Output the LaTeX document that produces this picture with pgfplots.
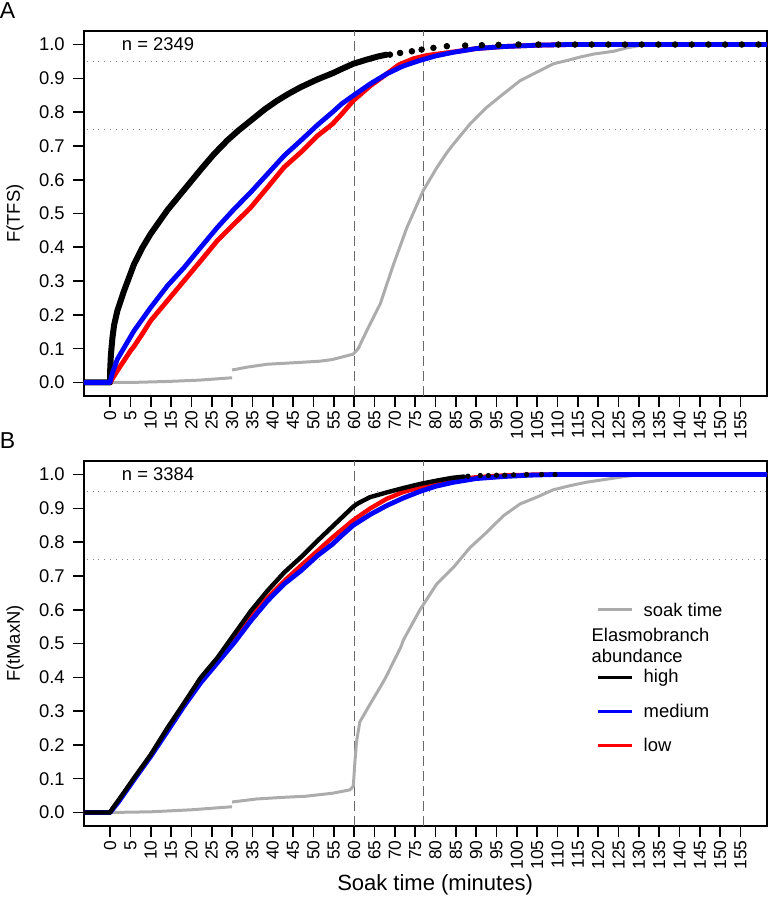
\documentclass[border=0pt]{standalone}
\usepackage{pgfplots}
\pgfplotsset{compat=1.18}
\usepackage{fontspec}
\setmainfont{Liberation Sans}

\definecolor{soak}{RGB}{172,172,172}
\definecolor{refl}{RGB}{105,105,105}
\definecolor{refd}{RGB}{135,135,135}

\pgfplotsset{
  panel/.style={
    scale only axis, width=341.5pt, height=182.5pt,
    xmin=-6.4, xmax=161.5, ymin=-0.04, ymax=1.04,
    xtick={0,5,...,155},
    ytick={0,0.1,0.2,0.3,0.4,0.5,0.6,0.7,0.8,0.9,1},
    yticklabels={0.0,0.1,0.2,0.3,0.4,0.5,0.6,0.7,0.8,0.9,1.0},
    tick align=outside, tick pos=left,
    major tick length=5.5pt,
    axis line style={line width=0.8pt},
    every tick/.style={black, line width=0.8pt},
    /pgf/number format/assume math mode=true,
    xticklabel style={rotate=90, anchor=east, font=\fontsize{8.7}{10}\selectfont, inner sep=1.5pt},
    yticklabel style={font=\fontsize{9.2}{10}\selectfont, inner sep=4pt},
    ylabel style={at={(axis description cs:-0.101,0.5)}, anchor=center, font=\fontsize{9.2}{10}\selectfont},
    clip mode=individual,
  },
  refv/.style={refl, line width=0.6pt, dash pattern=on 5pt off 2.5pt},
  refh/.style={refd, line width=0.5pt, dash pattern=on 0.5pt off 2.4pt},
}

\begin{document}
\begin{tikzpicture}
\useasboundingbox (0,0) rectangle (384pt,-455pt);

% ---- panel A: time to first sighting
\begin{axis}[panel, at={(42pt,-15.5pt)}, anchor=north west, ylabel={F(TFS)}]
  \addplot[refh] coordinates {(-10,0.95) (170,0.95)};
  \addplot[refh] coordinates {(-10,0.75) (170,0.75)};
  \addplot[refv] coordinates {(60,-0.04) (60,1.04)};
  \addplot[refv] coordinates {(77,-0.04) (77,1.04)};

  % soak time
  \addplot[soak, line width=1.5pt] coordinates {
    (-10,0) (0,0) (5,0.0) (14.1,0.003) (22,0.007) (30,0.014)
  };
  \addplot[soak, line width=1.5pt, line join=round] coordinates {
    (30,0.037) (34,0.046) (38.7,0.054) (46,0.059) (51.6,0.063) (54.7,0.068)
    (59.8,0.084) (61,0.10) (63.1,0.153) (66.4,0.232) (69.7,0.35) (73,0.459)
    (77,0.568) (80.3,0.635) (82.8,0.680) (84.4,0.705) (88.5,0.765) (91,0.795)
    (92.6,0.814) (96.7,0.854) (100.8,0.893) (104.9,0.918) (109,0.943)
    (113.1,0.955) (115.6,0.963) (119,0.972) (123.8,0.98) (127,0.99)
    (130.3,0.997) (133,1) (170,1)
  };

  % high
  \addplot[black, line width=3pt, line cap=round, line join=round] coordinates {
    (-10,0) (0,0) (0.05,0.04) (0.2,0.08) (0.6,0.133) (1.0,0.17) (1.8,0.212)
    (3.4,0.27) (5.9,0.35) (8,0.40) (10,0.44) (14.1,0.51) (18.2,0.57)
    (22.3,0.63) (25.5,0.675) (28.8,0.716) (31.5,0.745) (34.6,0.775)
    (38,0.808) (41.1,0.834) (44,0.855) (46.9,0.874) (51,0.897) (54.7,0.915)
    (57,0.928) (59.8,0.943) (63,0.955) (66,0.965) (68,0.970)
  };

  % low
  \addplot[red, line width=2.4pt, line join=round] coordinates {
    (-10,0) (0,0) (1.8,0.035) (5.1,0.095) (5.9,0.107) (8,0.145) (10,0.183)
    (14.1,0.242) (18.2,0.301) (22.3,0.36) (26.4,0.42) (30.5,0.469)
    (34.6,0.518) (38.7,0.577) (42.8,0.637) (46.9,0.681) (51,0.73)
    (54.7,0.765) (57,0.795) (59.8,0.834) (64,0.878) (68,0.913) (71,0.94)
    (74.6,0.958) (78,0.968) (84.4,0.978) (90,0.988) (96.7,0.994)
    (105,0.998) (113,1) (170,1)
  };

  % medium
  \addplot[blue, line width=2.4pt, line join=round] coordinates {
    (-10,0) (0,0) (0.5,0.025) (1.8,0.069) (5.9,0.153) (10,0.222)
    (14.1,0.286) (18.2,0.34) (22.3,0.40) (26.4,0.459) (30.5,0.513)
    (34.6,0.563) (38.7,0.617) (42.8,0.671) (46.9,0.716) (51,0.762)
    (54.7,0.80) (57,0.825) (59.8,0.849) (64,0.884) (68,0.913) (72,0.936)
    (76.2,0.953) (80,0.966) (84.4,0.977) (90,0.988) (96.7,0.994)
    (105,0.998) (113,1) (170,1)
  };

  % high, sparse tail points
  \addplot[only marks, mark=*, mark size=1.4pt, black] coordinates {
    (68.8,0.970) (71.3,0.975) (74.2,0.980) (76.6,0.985) (79.5,0.990)
    (82.8,0.995) (87.3,0.997) (91.4,0.998) (95.5,0.999) (100.4,1)
    (105.3,1) (110.2,1) (114.3,1) (118.4,1) (122.5,1) (126.6,1) (130.7,1)
    (134.8,1) (138.9,1) (143,1) (147.1,1) (151.2,1) (155.3,1) (159.4,1)
  };

  \node[anchor=west, font=\fontsize{9.2}{10}\selectfont] at (axis cs:1.2,1.0) {n = 2349};
  \node[font=\fontsize{11.5}{13}\selectfont] at (axis description cs:-0.112,1.055) {A};
\end{axis}

% ---- panel B: time to MaxN
\begin{axis}[panel, at={(42pt,-230.5pt)}, anchor=north west, ylabel={F(tMaxN)},
  xlabel={Soak time (minutes)},
  xlabel style={at={(axis description cs:0.514,-0.162)}, anchor=center, font=\fontsize{11}{13}\selectfont}]
  \addplot[refh] coordinates {(-10,0.95) (170,0.95)};
  \addplot[refh] coordinates {(-10,0.75) (170,0.75)};
  \addplot[refv] coordinates {(60,-0.04) (60,1.04)};
  \addplot[refv] coordinates {(77,-0.04) (77,1.04)};

  % soak time
  \addplot[soak, line width=1.5pt] coordinates {
    (-10,0) (0,0) (10,0.002) (20,0.008) (30,0.017)
  };
  \addplot[soak, line width=1.5pt, line join=round] coordinates {
    (30,0.031) (36,0.040) (42.8,0.045) (48,0.048) (54.7,0.057) (59,0.067)
    (59.8,0.078) (60.2,0.15) (60.6,0.21) (61.4,0.268) (63.9,0.32)
    (67.1,0.385) (68,0.405) (71.5,0.49) (72.1,0.51) (76.2,0.600)
    (80.3,0.676) (84.4,0.725) (88.5,0.784) (92.6,0.829) (96.7,0.878)
    (100.8,0.913) (104.9,0.933) (109,0.955) (113.1,0.967) (117,0.977)
    (122,0.986) (127,0.995) (131,1) (170,1)
  };

  % low
  \addplot[red, line width=2.2pt, line join=round] coordinates {
    (-10,0) (0,0) (2,0.033) (5.9,0.098) (10,0.168) (14.1,0.246)
    (18.2,0.32) (22.3,0.392) (26.4,0.448) (30.5,0.515) (34.6,0.582)
    (38.7,0.635) (42.8,0.685) (46.9,0.73) (51,0.774) (54.7,0.814)
    (59.8,0.865) (64,0.900) (68,0.928) (72,0.948) (76.2,0.962) (80,0.975)
    (84.4,0.984) (90,0.992) (96.7,0.997) (105,1) (170,1)
  };

  % medium
  \addplot[blue, line width=2.4pt, line join=round] coordinates {
    (-10,0) (0,0) (2,0.03) (5.9,0.097) (10,0.166) (14.1,0.24) (18.2,0.315)
    (22.3,0.384) (26.4,0.443) (30.5,0.502) (34.6,0.567) (38.7,0.626)
    (42.8,0.676) (46.9,0.715) (51,0.76) (54.7,0.794) (57,0.82)
    (59.8,0.850) (64,0.882) (68,0.908) (72,0.93) (76.2,0.95) (80,0.965)
    (84.4,0.977) (90,0.988) (96.7,0.994) (103,0.998) (109,1) (170,1)
  };

  % high
  \addplot[black, line width=2.2pt, line cap=round, line join=round] coordinates {
    (-10,0) (0,0) (0.5,0.01) (2,0.035) (5.9,0.102) (10,0.171) (14.1,0.25)
    (18.2,0.324) (22.3,0.399) (26.4,0.458) (30.5,0.527) (34.6,0.596)
    (38.7,0.656) (42.8,0.71) (46.9,0.755) (51,0.804) (55.7,0.858)
    (59.8,0.905) (61,0.915) (63.9,0.933) (68,0.947) (72.1,0.96)
    (76.2,0.972) (80.3,0.982) (84,0.990) (87,0.994)
  };
  \addplot[only marks, mark=*, mark size=1.1pt, black] coordinates {
    (88,0.995) (91,0.997) (93,0.997) (95,0.998) (97,0.998) (99.2,0.999)
    (102.4,1) (106.1,1) (109.4,1)
  };

  % legend
  \draw[soak, line width=1.5pt] (axis cs:120,0.60) -- (axis cs:128.4,0.60);
  \draw[black, line width=1.5pt] (axis cs:120,0.40) -- (axis cs:128.4,0.40);
  \draw[blue, line width=1.5pt] (axis cs:120,0.30) -- (axis cs:128.4,0.30);
  \draw[red, line width=1.5pt] (axis cs:120,0.199) -- (axis cs:128.4,0.199);
  \begin{scope}[every node/.style={anchor=west, inner sep=0pt, font=\fontsize{9.2}{10}\selectfont}]
    \node at (axis cs:131.1,0.60) {soak time};
    \node at (axis cs:118.3,0.525) {Elasmobranch};
    \node at (axis cs:118.3,0.463) {abundance};
    \node at (axis cs:131.1,0.40) {high};
    \node at (axis cs:131.1,0.30) {medium};
    \node at (axis cs:131.1,0.199) {low};
  \end{scope}

  \node[anchor=west, font=\fontsize{9.2}{10}\selectfont] at (axis cs:1.2,1.0) {n = 3384};
  \node[font=\fontsize{11.5}{13}\selectfont] at (axis description cs:-0.112,1.055) {B};
\end{axis}
\end{tikzpicture}
\end{document}
